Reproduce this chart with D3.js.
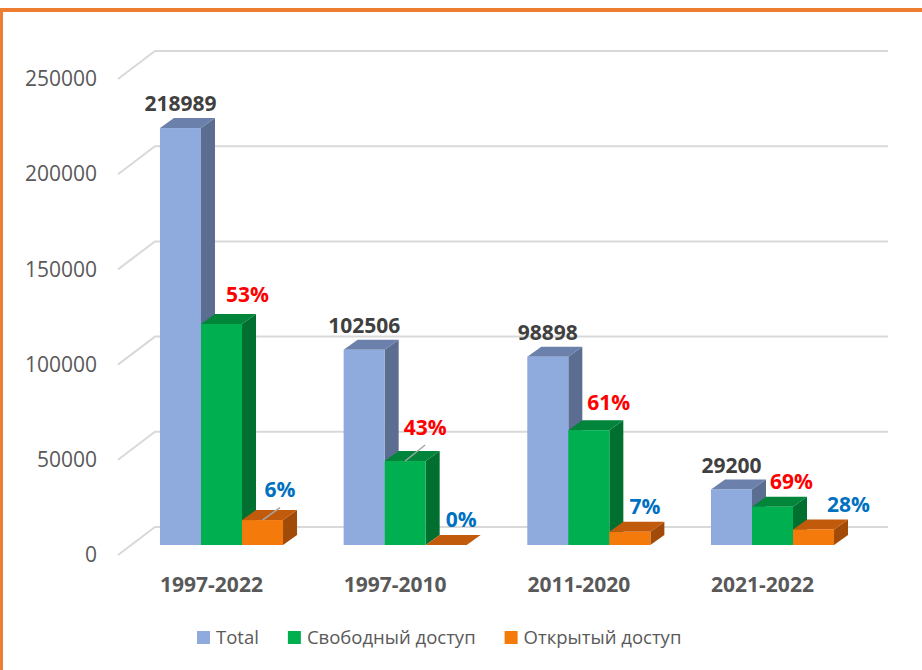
<!DOCTYPE html>
<html>
<head>
<meta charset="utf-8">
<script src="https://cdn.jsdelivr.net/npm/d3@7/dist/d3.min.js"></script>
<style>
  html, body { margin: 0; padding: 0; background: #fff; }
  svg { display: block; font-family: "Open Sans", "DejaVu Sans", sans-serif; }
</style>
</head>
<body>
<svg id="chart" width="922" height="670"></svg>
<script>
// ---- data ----
const categories = ["1997-2022", "1997-2010", "2011-2020", "2021-2022"];
const seriesNames = ["Total", "Свободный доступ", "Открытый доступ"];
const totalValues = [218989, 102506, 98898, 29200];
const freeValues = [116100, 44100, 60300, 20100];
const openValues = [13100, 0, 6900, 8200];
const freeLabels = ["53%", "43%", "61%", "69%"];
const openLabels = ["6%", "0%", "7%", "28%"];
const yTicks = [0, 50000, 100000, 150000, 200000, 250000];

// ---- layout ----
const W = 922, H = 670;
const colors = {
  front: ["#8FAADC", "#00B050", "#F47A0B"],
  top:   ["#6B80AA", "#00853A", "#C25A0C"],
  side:  ["#5B6D90", "#006F30", "#A24B09"]
};
const depth = { dx: 14, dy: 10 };
const wall = { xFront: 118, xBack: 155, xEnd: 888, frontOff: 10, backOff: -18 };
// label nudges (layout only)
const freeNudge = [[6, -1], [0, -5.5], [0, 0], [-1, 3]];
const openNudge = [[2.5, -5], [0, 0], [0, 0], [20, 0]];
const freeLeader = [false, true, false, false];
const openLeader = [true, false, false, false];

const svg = d3.select("#chart");
svg.append("rect").attr("width", W).attr("height", H).attr("fill", "#fff");

// y scale in the plane of the bars
const y = d3.scaleLinear().domain([0, 250000]).range([545, 69]);
const yFront = d3.scaleLinear().domain([0, 250000]).range([555, 79]);

const x0 = d3.scaleBand().domain(categories).range([129.67, 864.33])
  .paddingInner(0.33).paddingOuter(0.165);
const x1 = d3.scaleBand().domain(seriesNames).range([0, x0.bandwidth()]).padding(0);

// gridlines (wall)
const grid = svg.append("g");
yTicks.forEach(t => {
  const yb = y(t) + wall.backOff;
  const yf = y(t) + wall.frontOff;
  grid.append("path")
    .attr("d", `M${wall.xFront},${yf} L${wall.xBack},${yb} L${wall.xEnd},${yb}`)
    .attr("fill", "none").attr("stroke", "#D9D9D9").attr("stroke-width", 2);
});

// y axis labels
const axis = d3.axisLeft(yFront).tickValues(yTicks).tickSize(0).tickPadding(0)
  .tickFormat(d3.format("d"));
const ax = svg.append("g").attr("transform", "translate(97,0)").call(axis);
ax.select(".domain").remove();
ax.selectAll("text").attr("font-size", 21).attr("fill", "#595959")
  .attr("font-family", "'Open Sans', sans-serif");

// bars
const seriesData = [totalValues, freeValues, openValues];
const barsG = svg.append("g");
function drawBar(g, xl, w, v, si) {
  const yt = y(v), yb = y(0);
  const { dx, dy } = depth;
  g.append("path")
    .attr("d", `M${xl + w},${yt} L${xl + w + dx},${yt - dy} L${xl + w + dx},${yb - dy} L${xl + w},${yb} Z`)
    .attr("fill", colors.side[si]);
  g.append("path")
    .attr("d", `M${xl},${yt} L${xl + dx},${yt - dy} L${xl + w + dx},${yt - dy} L${xl + w},${yt} Z`)
    .attr("fill", colors.top[si]);
  g.append("rect").attr("x", xl).attr("y", yt).attr("width", w).attr("height", yb - yt)
    .attr("fill", colors.front[si]);
}
categories.forEach((c, ci) => {
  const g = barsG.append("g");
  seriesNames.forEach((s, si) => {
    drawBar(g, x0(c) + x1(s), x1.bandwidth(), seriesData[si][ci], si);
  });
});

// category labels
svg.append("g").selectAll("text").data(categories).join("text")
  .attr("x", d => x0(d) + x0.bandwidth() / 2 - 10)
  .attr("y", 585).attr("dy", "0.35em")
  .attr("text-anchor", "middle").attr("font-size", 21).attr("font-weight", "bold")
  .attr("fill", "#595959").text(d => d);

// total labels
const lab = svg.append("g");
categories.forEach((c, ci) => {
  const xl = x0(c) + x1(seriesNames[0]);
  lab.append("text")
    .attr("x", xl + x1.bandwidth() / 2)
    .attr("y", y(totalValues[ci]) - depth.dy - 14).attr("dy", "0.35em")
    .attr("text-anchor", "middle").attr("font-size", 21).attr("font-weight", "bold")
    .attr("fill", "#404040").text(d3.format("d")(totalValues[ci]));
});

function pctLabels(si, values, labels, base, nudge, leader, color) {
  categories.forEach((c, ci) => {
    const cx = x0(c) + x1(seriesNames[si]) + x1.bandwidth() / 2;
    const yt = y(values[ci]);
    const lx = cx + base[0] + nudge[ci][0];
    const ly = yt - depth.dy + base[1] + nudge[ci][1];
    if (leader[ci]) {
      lab.append("line").attr("x1", cx).attr("y1", yt).attr("x2", lx).attr("y2", ly + 17.5)
        .attr("stroke", "#A6A6A6").attr("stroke-width", 1.5);
    }
    lab.append("text").attr("x", lx).attr("y", ly).attr("dy", "0.35em")
      .attr("text-anchor", "middle").attr("font-size", 21).attr("font-weight", "bold")
      .attr("fill", color).text(labels[ci]);
  });
}
pctLabels(1, freeValues, freeLabels, [20, -18], freeNudge, freeLeader, "#FF0000");
pctLabels(2, openValues, openLabels, [15, -15], openNudge, openLeader, "#0070C0");

// legend
const leg = svg.append("g");
let lxPos = 197;
seriesNames.forEach((s, i) => {
  leg.append("rect").attr("x", lxPos).attr("y", 631).attr("width", 13).attr("height", 13)
    .attr("fill", colors.front[i]);
  const t = leg.append("text").attr("x", lxPos + 19).attr("y", 637.5).attr("dy", "0.35em")
    .attr("font-size", 18.5).attr("fill", "#595959").text(s);
  lxPos += 19 + t.node().getComputedTextLength() + 29;
});

// border
svg.append("rect").attr("x", 1).attr("y", 10).attr("width", W + 20).attr("height", H + 20)
  .attr("fill", "none").attr("stroke", "#ED7D31").attr("stroke-width", 4);
</script>
</body>
</html>
